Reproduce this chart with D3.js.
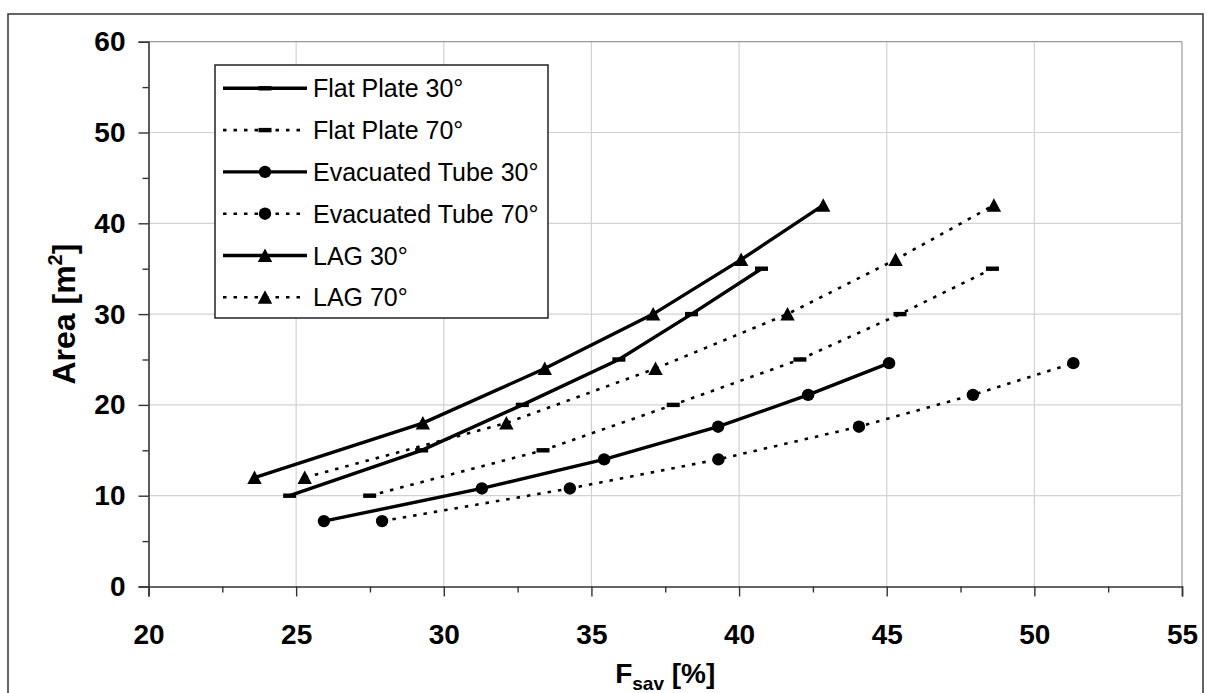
<!DOCTYPE html>
<html>
<head>
<meta charset="utf-8">
<script src="https://cdn.jsdelivr.net/npm/d3@7"></script>
<style>
  html, body { margin: 0; padding: 0; background: #fff; }
  svg { display: block; font-family: "Liberation Sans", Arial, sans-serif; }
</style>
</head>
<body>
<svg id="chart" width="1211" height="693"></svg>
<script>
// ---- data ----
const xTicks = [20, 25, 30, 35, 40, 45, 50, 55];
const yTicks = [0, 10, 20, 30, 40, 50, 60];
const xMinorTicks = [22.5, 27.5, 32.5, 37.5, 42.5, 47.5, 52.5];
const yMinorTicks = [5, 15, 25, 35, 45, 55];

const fpArea = [10, 15, 20, 25, 30, 35];
const fp30Fsav = [24.78, 29.25, 32.66, 35.93, 38.39, 40.76];
const fp70Fsav = [27.49, 33.36, 37.77, 42.06, 45.45, 48.58];

const etArea = [7.2, 10.8, 14.0, 17.6, 21.1, 24.6];
const et30Fsav = [25.94, 31.29, 35.43, 39.29, 42.34, 45.08];
const et70Fsav = [27.91, 34.27, 39.30, 44.06, 47.92, 51.32];

const lagArea = [12, 18, 24, 30, 36, 42];
const lag30Fsav = [23.59, 29.29, 33.42, 37.09, 40.07, 42.85];
const lag70Fsav = [25.29, 32.12, 37.17, 41.64, 45.30, 48.63];

const seriesNames = ["Flat Plate 30°", "Flat Plate 70°", "Evacuated Tube 30°",
                     "Evacuated Tube 70°", "LAG 30°", "LAG 70°"];

const series = [
  { name: seriesNames[0], xs: fp30Fsav, ys: fpArea, marker: "dash", dotted: false },
  { name: seriesNames[1], xs: fp70Fsav, ys: fpArea, marker: "dash", dotted: true },
  { name: seriesNames[2], xs: et30Fsav, ys: etArea, marker: "circle", dotted: false },
  { name: seriesNames[3], xs: et70Fsav, ys: etArea, marker: "circle", dotted: true },
  { name: seriesNames[4], xs: lag30Fsav, ys: lagArea, marker: "triangle", dotted: false },
  { name: seriesNames[5], xs: lag70Fsav, ys: lagArea, marker: "triangle", dotted: true }
];

// ---- layout ----
const svg = d3.select("#chart");
const pLeft = 148.5, pRight = 1182, pTop = 41.7, pBottom = 586.5;
const x = d3.scaleLinear().domain([20, 55]).range([pLeft, pRight]);
const y = d3.scaleLinear().domain([0, 60]).range([pBottom, pTop]);

// outer border
svg.append("rect").attr("x", 8).attr("y", 14).attr("width", 1195).attr("height", 700)
  .attr("fill", "none").attr("stroke", "#333").attr("stroke-width", 1.5);

// gridlines
const grid = svg.append("g");
grid.selectAll(".gx").data(xTicks.slice(1)).join("line")
  .attr("x1", d => x(d)).attr("x2", d => x(d)).attr("y1", pTop).attr("y2", pBottom)
  .attr("stroke", d => d === 55 ? "#9a9a9a" : "#d2d2d2").attr("stroke-width", 1.2);
grid.selectAll(".gy").data(yTicks.slice(1)).join("line")
  .attr("x1", pLeft).attr("x2", pRight).attr("y1", d => y(d)).attr("y2", d => y(d))
  .attr("stroke", d => d === 60 ? "#9a9a9a" : "#d2d2d2").attr("stroke-width", 1.2);

// axes
const axisColor = "#333";
const xAxis = svg.append("g").attr("transform", `translate(0,${pBottom})`)
  .call(d3.axisBottom(x).tickValues(xTicks).tickSize(10).tickPadding(28).tickFormat(d3.format("d")));
const xMinor = svg.append("g").attr("transform", `translate(0,${pBottom})`)
  .call(d3.axisBottom(x).tickValues(xMinorTicks).tickSize(6).tickFormat(""));
const yAxis = svg.append("g").attr("transform", `translate(${pLeft},0)`)
  .call(d3.axisLeft(y).tickValues(yTicks).tickSize(10).tickPadding(13).tickFormat(d3.format("d")));
const yMinor = svg.append("g").attr("transform", `translate(${pLeft},0)`)
  .call(d3.axisLeft(y).tickValues(yMinorTicks).tickSize(6).tickFormat(""));

[xAxis, xMinor, yAxis, yMinor].forEach(g => {
  g.select(".domain").attr("stroke", axisColor).attr("stroke-width", 1.6);
  g.selectAll(".tick line").attr("stroke", axisColor).attr("stroke-width", 1.4);
});
xMinor.select(".domain").remove();
yMinor.select(".domain").remove();
[xAxis, yAxis].forEach(g => {
  g.selectAll(".tick text").attr("fill", "#000").attr("font-size", 28).attr("font-weight", "bold")
    .attr("font-family", "'Liberation Sans', Arial, sans-serif");
});

// axis titles
svg.append("text")
  .attr("transform", `translate(75,${(pTop + pBottom) / 2}) rotate(-90)`)
  .attr("text-anchor", "middle").attr("font-size", 32).attr("font-weight", "bold")
  .call(t => {
    t.append("tspan").text("Area [m");
    t.append("tspan").attr("font-size", 20).attr("dy", -13).text("2");
    t.append("tspan").attr("dy", 13).text("]");
  });

svg.append("text")
  .attr("x", (pLeft + pRight) / 2).attr("y", 683)
  .attr("text-anchor", "middle").attr("font-size", 28).attr("font-weight", "bold")
  .call(t => {
    t.append("tspan").text("F");
    t.append("tspan").attr("font-size", 19).attr("dy", 7).text("sav");
    t.append("tspan").attr("dy", -7).text(" [%]");
  });

// markers
function drawMarker(g, type, cx, cy) {
  if (type === "circle") {
    g.append("circle").attr("cx", cx).attr("cy", cy).attr("r", 6.2).attr("fill", "#000");
  } else if (type === "triangle") {
    g.append("path").attr("d", `M${cx},${cy - 7} L${cx + 7.2},${cy + 6.5} L${cx - 7.2},${cy + 6.5} Z`)
      .attr("fill", "#000");
  } else {
    g.append("rect").attr("x", cx - 6.5).attr("y", cy - 2.2).attr("width", 13).attr("height", 4.4)
      .attr("fill", "#000");
  }
}

const line = d3.line().x(d => x(d[0])).y(d => y(d[1]));
const plot = svg.append("g");
series.forEach(s => {
  const pts = s.xs.map((v, i) => [v, s.ys[i]]);
  plot.append("path").attr("d", line(pts)).attr("fill", "none").attr("stroke", "#000")
    .attr("stroke-width", s.dotted ? 2.6 : 3.4)
    .attr("stroke-dasharray", s.dotted ? "3.5,7" : null);
});
series.forEach(s => {
  const g = plot.append("g");
  s.xs.forEach((v, i) => drawMarker(g, s.marker, x(v), y(s.ys[i])));
});

// legend
const lg = svg.append("g");
lg.append("rect").attr("x", 215).attr("y", 65).attr("width", 333).attr("height", 253)
  .attr("fill", "#fff").attr("stroke", "#222").attr("stroke-width", 1.5);
series.forEach((s, i) => {
  const ly = 88.3 + i * 41.8;
  lg.append("line").attr("x1", 223).attr("x2", 307).attr("y1", ly).attr("y2", ly)
    .attr("stroke", "#000").attr("stroke-width", s.dotted ? 2.6 : 3.4)
    .attr("stroke-dasharray", s.dotted ? "3.5,7" : null);
  drawMarker(lg, s.marker, 265, ly);
  lg.append("text").attr("x", 313).attr("y", ly + 9).attr("font-size", 25).attr("fill", "#000")
    .text(s.name);
});
</script>
</body>
</html>
